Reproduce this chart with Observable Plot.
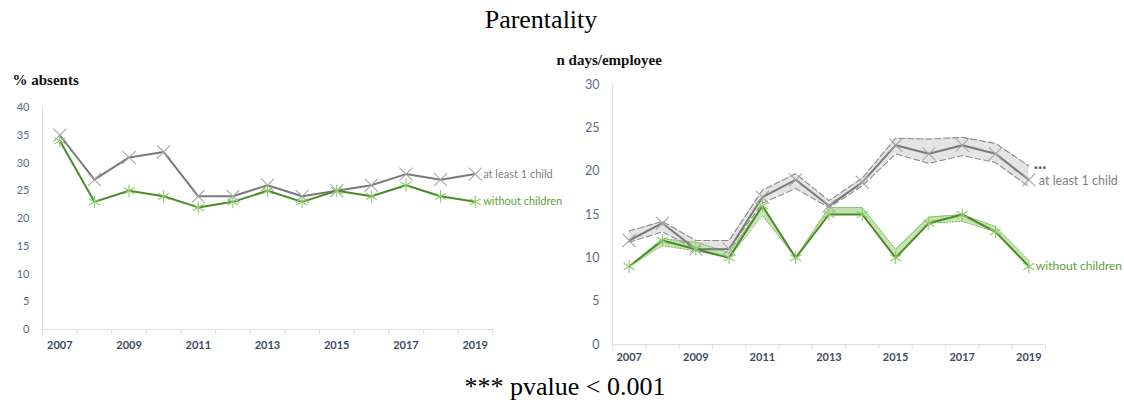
<!DOCTYPE html>
<html><head><meta charset="utf-8">
<script src="https://cdn.jsdelivr.net/npm/d3@7"></script>
<script src="https://cdn.jsdelivr.net/npm/@observablehq/plot@0.6"></script>
<style>
body{margin:0;background:#fff;width:1124px;height:405px;overflow:hidden;}
#title{height:40px;line-height:40px;font-size:26px;font-family:"Liberation Serif","Times New Roman",serif;text-align:center;width:1082px;color:#000;}
#row{display:flex;height:325px;}
#row > div{flex:none;}
#caption{height:40px;line-height:40px;font-size:26px;font-family:"Liberation Serif","Times New Roman",serif;text-align:center;width:1130px;color:#000;padding-top:2px;}
</style>
</head><body>
<div id="title">Parentality</div>
<div id="row"><div id="left"></div><div id="right"></div></div>
<div id="caption">*** pvalue &lt; 0.001</div>
<script>
const years = [2007,2008,2009,2010,2011,2012,2013,2014,2015,2016,2017,2018,2019];
const tickYears = [2007,2009,2011,2013,2015,2017,2019];
const leftChild   = [35,27,31,32,24,24,26,24,25,26,28,27,28];
const leftNoChild = [34,23,25,24,22,23,25,23,25,24,26,24,23];
const rightChild     = [12,14,11,11,17,19,16,18.7,23,22,23,22,19];
const rightChildLow  = [11.8,13,11,11,16.3,18,15.8,18.3,22,20.9,21.8,21,18.2];
const rightChildHigh = [13.1,14.2,12,12,17.8,19.7,16.6,19.2,23.8,23.7,23.9,23.2,20.6];
const rightNoChild     = [9,12,11,10,16,10,15,15,10,14,15,13,9];
const rightNoChildLow  = [9,11.4,10.8,10,14.9,10,15,15,10,14,14.2,13,9];
const rightNoChildHigh = [9,12.2,11.8,10.6,16,10,15.8,15.8,11,14.7,15,13.6,9.7];
const leftYTicks = [0,5,10,15,20,25,30,35,40];
const rightYTicks = [0,5,10,15,20,25,30];
const seriesChild = "at least 1 child";
const seriesNoChild = "without children";

const boundaries = years.map(y => y - 0.5).concat([years[years.length-1] + 0.5]);
const leftData = years.map((y,i) => ({year:y, child:leftChild[i], none:leftNoChild[i]}));
const rightData = years.map((y,i) => ({year:y, child:rightChild[i], cLo:rightChildLow[i], cHi:rightChildHigh[i],
  none:rightNoChild[i], nLo:rightNoChildLow[i], nHi:rightNoChildHigh[i]}));
const lastL = leftData[leftData.length-1];
const lastR = rightData[rightData.length-1];

const GRAY = "#7a7a7a", GRAYM = "#a6a6a6", GREEN = "#4a8c2a", GREENM = "#8cc96c";
const GRAYT = "#7f7f7f", GREENT = "#5fa03a";
const AXIS = "#d8dee8";
const sans = "Lato, 'Open Sans', sans-serif";

const left = Plot.plot({
  width: 550, height: 325,
  marginLeft: 42, marginRight: 58, marginTop: 67, marginBottom: 36,
  style: {background: "transparent", overflow: "visible", fontFamily: sans},
  x: {domain: [years[0]-0.5, years[years.length-1]+0.5]},
  y: {domain: [0, 40]},
  marks: [
    Plot.ruleX([boundaries[0]], {stroke: AXIS}),
    Plot.ruleY([0], {stroke: AXIS}),
    Plot.axisX(boundaries, {tickSize: 5, tickFormat: () => "", stroke: AXIS, label: null}),
    Plot.axisX(tickYears, {tickSize: 0, tickPadding: 12, tickFormat: d => String(d), color: "#3d4a66", fontWeight: "bold", fontSize: 11, label: null}),
    Plot.axisY(leftYTicks, {tickSize: 0, tickPadding: 13, color: "#5a6b8a", fontSize: 11, label: null}),
    Plot.text(["% absents"], {frameAnchor: "top-left", dx: -30, dy: -27, lineAnchor: "middle", textAnchor: "start", fontFamily: "'Liberation Serif', serif", fontWeight: "bold", fontSize: 15, fill: "#111"}),
    Plot.line(leftData, {x: "year", y: "child", stroke: GRAY, strokeWidth: 2}),
    Plot.line(leftData, {x: "year", y: "none", stroke: GREEN, strokeWidth: 2}),
    Plot.dot(leftData, {x: "year", y: "child", symbol: "times", r: 6, stroke: GRAYM, strokeWidth: 1.1}),
    Plot.dot(leftData, {x: "year", y: "none", symbol: "asterisk", r: 6, stroke: GREENM, strokeWidth: 1.1}),
    Plot.text([lastL], {x: "year", y: "child", text: () => seriesChild, dx: 8, textAnchor: "start", fill: GRAYT, fontSize: 11}),
    Plot.text([lastL], {x: "year", y: "none", text: () => seriesNoChild, dx: 8, textAnchor: "start", fill: GREENT, fontSize: 11})
  ]
});
document.getElementById("left").append(left);

const right = Plot.plot({
  width: 574, height: 325,
  marginLeft: 62, marginRight: 79, marginTop: 44, marginBottom: 21,
  style: {background: "transparent", overflow: "visible", fontFamily: sans},
  x: {domain: [years[0]-0.5, years[years.length-1]+0.5]},
  y: {domain: [0, 30]},
  marks: [
    Plot.ruleX([boundaries[0]], {stroke: AXIS}),
    Plot.ruleY([0], {stroke: AXIS}),
    Plot.axisX(boundaries, {tickSize: 5, tickFormat: () => "", stroke: AXIS, label: null}),
    Plot.axisX(tickYears, {tickSize: 0, tickPadding: 9, tickFormat: d => String(d), color: "#3d4a66", fontWeight: "bold", fontSize: 11, label: null}),
    Plot.axisY(rightYTicks, {tickSize: 0, tickPadding: 13, color: "#5a6b8a", fontSize: 12.5, label: null}),
    Plot.text(["n days/employee"], {frameAnchor: "top-left", dx: -56, dy: -24, lineAnchor: "middle", textAnchor: "start", fontFamily: "'Liberation Serif', serif", fontWeight: "bold", fontSize: 15, fill: "#111"}),
    Plot.areaY(rightData, {x: "year", y1: "cLo", y2: "cHi", fill: "#e4e4e4"}),
    Plot.areaY(rightData, {x: "year", y1: "nLo", y2: "nHi", fill: "#c5e2b2"}),
    Plot.line(rightData, {x: "year", y: "cLo", stroke: "#8c8c8c", strokeWidth: 1.1, strokeDasharray: "6,3"}),
    Plot.line(rightData, {x: "year", y: "cHi", stroke: "#8c8c8c", strokeWidth: 1.1, strokeDasharray: "6,3"}),
    Plot.line(rightData, {x: "year", y: "nLo", stroke: "#7dbb5a", strokeWidth: 1, strokeDasharray: "1.5,1.5"}),
    Plot.line(rightData, {x: "year", y: "nHi", stroke: "#7dbb5a", strokeWidth: 1, strokeDasharray: "1.5,1.5"}),
    Plot.line(rightData, {x: "year", y: "child", stroke: GRAY, strokeWidth: 2}),
    Plot.line(rightData, {x: "year", y: "none", stroke: GREEN, strokeWidth: 2}),
    Plot.dot(rightData, {x: "year", y: "child", symbol: "times", r: 6, stroke: GRAYM, strokeWidth: 1.1}),
    Plot.dot(rightData, {x: "year", y: "none", symbol: "asterisk", r: 6, stroke: GREENM, strokeWidth: 1.1}),
    Plot.text([lastR], {x: "year", y: "child", text: () => "***", dx: 5, dy: -10, textAnchor: "start", fill: "#333", fontWeight: "bold", fontSize: 10}),
    Plot.text([lastR], {x: "year", y: "child", text: () => seriesChild, dx: 10, dy: 1, textAnchor: "start", fill: GRAYT, fontSize: 12.5}),
    Plot.text([lastR], {x: "year", y: "none", text: () => seriesNoChild, dx: 7, textAnchor: "start", fill: GREENT, fontSize: 12})
  ]
});
document.getElementById("right").append(right);
</script>
</body></html>
